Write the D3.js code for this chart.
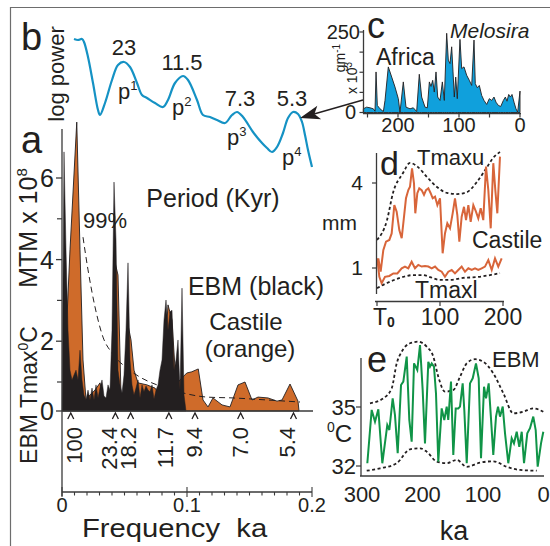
<!DOCTYPE html>
<html><head><meta charset="utf-8">
<script src="https://cdn.jsdelivr.net/npm/d3@7"></script>
<style>
body{margin:0;background:#fff}
text{font-family:"Liberation Sans",Arial,Helvetica,sans-serif}
</style>
</head><body>
<svg id="chart" width="550" height="546"></svg>
<script>
// ---------------- DATA ----------------
// Panel a: MTM spectra (x = frequency, 1/ka; y = MTM x 10^8)
const ebmFreqStep = 0.0016;
const ebmValues = [0,6.64,4.24,2.27,1.29,1.05,1.17,1.29,1.05,1.78,1.05,0.55,0.38,0.72,0.38,0.79,0.38,0.9,0.45,0.79,1.05,0.52,0.45,0.9,0.72,2.27,5.9,4.48,1.29,0.9,0.62,1.17,2.27,3.92,1.54,0.9,0.55,0.79,1.05,0.45,0.9,0.66,0.86,0.72,0.66,0.9,0.41,0.72,0.9,1.29,1.54,2.52,3.01,2.27,2.72,2.76,1.29,1.54,2.03,0.72,3.3,0.55,0];
const castileFreq = [0.0004,0.0032,0.0064,0.0118,0.0144,0.0168,0.0192,0.0224,0.0264,0.0304,0.0344,0.0368,0.0392,0.0424,0.0448,0.0472,0.0496,0.0528,0.0552,0.0576,0.0608,0.068,0.0744,0.0784,0.0816,0.0848,0.088,0.0912,0.0944,0.0998,0.1038,0.109,0.1128,0.1168,0.1208,0.128,0.1344,0.1408,0.1464,0.152,0.1568,0.1648,0.172,0.176,0.1824,0.1888,0.1896];
const castileValues = [0,2.03,4.24,7.37,4.24,1.54,0.38,0.55,0.72,0.97,0.14,0.38,0.55,3.94,3.62,0.55,0.48,2.4,2.03,1.29,0.97,0.9,0.79,0.55,1.29,2.89,2.52,0.9,1.05,1.22,1.25,1.32,0.38,0.14,0.45,0.21,0.14,0.9,1.0,0.38,0.48,0.45,0.34,0.38,0.93,0.34,0];
const sig99Freq = [0.0168,0.0208,0.0264,0.0328,0.04,0.052,0.0624,0.076,0.0888,0.1,0.116,0.1368,0.164,0.1904];
const sig99Values = [4.55,3.75,2.84,2.1,1.71,1.34,1.12,0.9,0.72,0.59,0.48,0.45,0.38,0.31];
const periodLabels = ["100","23.4","18.2","11.7","9.4","7.0","5.4"];
const periodMarkFreq = [0.007,0.0427,0.0549,0.0855,0.1064,0.1429,0.1852];
const periodLabelFreq = [0.0096,0.0372,0.0524,0.0824,0.1052,0.1424,0.1796];
const aYTicks = [6,4,2,0];
const aYMinor = [5,3,1];
const aXTickLabels = [0,0.1,0.2];

// Panel b: log power curve (relative units)
const bIndex = [2,6,10,12,16,21,26,28,33,40,46,52,58,65,70,75,83,91,96,103,111,116,125,131,138,145,153,160,165,171,181,190,195,200,205,211,216,221,226,230,233,236,240];
const bPower = [131,130,131,128,113,87,60,55,67,90,105,108,103,87,75,72,67,63,70,87,94,90,70,55,53,50,47,55,58,53,38,27,22,18,23,37,52,58,56,48,35,20,3];
const bPeakLabels = ["23","11.5","7.3","5.3"];

// Panel c: Africa Melosira (ka, gm-1 x 10^3)
const cAge = [256.8,251.4,245.9,240.4,237.7,236,233.9,229.5,224,221.3,215.9,210.3,204.9,199.5,196.7,191.3,186.9,180.3,174.9,169.4,165.1,161.2,155.7,151.9,148.6,145.9,143.1,140.5,137.7,134.9,131.1,127.3,124.1,120.2,117.5,114.8,112,109.8,107.7,105.4,102.8,98.4,95.6,91.8,87.4,83.1,79.2,75.4,73.3,70,66.7,62.8,59,54.6,50.3,46.4,42.6,39.3,35.5,31.6,27.3,24,21.3,18.5,15.8,13.1,9.8,6.6,3.8,0];
const cMelosira = [11.5,16.6,14.6,11.5,4,126,22,11.5,3,37.5,141.6,110,79,43,1,95,16.6,11.5,14.7,3,118.7,48,16.6,14.6,95,81,100,63.5,126,48,37.5,95,37.5,246,162.5,152,204,126,48,110,43,227,136.5,141.6,115.6,100,84,225,89.6,77,84,53,37.5,25,43,37.5,48,32,22,18.75,37.5,48,35,56,48,56,32,11.5,1,66.5];
const cXTicks = [250,200,150,100,50,0];
const cXLabels = [200,100,0];
const cYTicks = [0,62.5,125,187.5,250];

// Panel d: Castile (time from T0, mm)
const dUpperT = [2.1,5.8,10,14.3,19.6,23.3,27.5,31.2,35.4,39.2,42.9,46,49.7,52.4,55.6,58.7,60.8,64,67.1,70.9,74.6,77.8,81.5,85.2,88.4,92.1,95.8,100,104.2,107.9,111.6,115.9,120.1,123.8,127.5,130.7,134.4,138.1,141.3,145,148.7,152.9,157.1,160.8,164.6,168.7,173,176.7,180.5,184.6,187.8,191,195.2];
const dUpperV = [1.34,0.87,1.63,1.93,1.99,2.22,3.22,2.99,2.34,2.05,2.81,3.46,3.75,3.87,4.52,3.99,2.93,3.64,3.81,3.75,3.58,3.75,3.81,3.64,3.46,3.52,3.22,3.46,1.52,2.22,2.58,2.4,2.93,3.46,2.87,1.93,2.81,3.16,2.69,3.22,2.63,3.22,2.99,2.75,3.11,2.69,4.58,3.75,2.4,4.7,3.75,2.93,4.93];
const dLowerT = [0.5,3.7,7.4,12.7,19.6,25.9,32.3,39.2,44.4,49.7,55,60.3,65.6,70.9,76.2,81.5,86.8,92.1,97.3,102.7,107.9,113.2,118.6,123.8,129,134.4,139.7,145,150.3,155.6,160.8,166.2,171.4,176.7,182.1,187.3,192.5,197.9];
const dLowerV = [1.34,0.69,0.46,0.69,0.72,0.81,0.81,0.99,1.05,0.99,1.22,0.99,1.11,1.05,1.07,1.05,0.99,1.05,0.93,0.87,0.69,0.87,0.93,0.81,0.93,1.05,0.87,0.99,0.93,0.99,0.93,0.99,1.05,1.28,0.93,1.34,1.05,1.34];
const dEnvUT = [0,15.9,25.4,41.3,52.4,65.1,79.4,95.2,111.1,127,142.9,158.7,174.6,184.1,195.2];
const dEnvUV = [1.99,2.69,3.65,4.35,4.71,4.56,4.21,3.86,3.65,3.61,3.68,4.04,4.56,4.88,5.09];
const dEnvLT = [0,15.9,36.5,57.1,73,84.1,100,115.9,136.5,158.7,179.4,195.2];
const dEnvLV = [0.29,0.47,0.65,0.75,0.75,0.68,0.58,0.58,0.65,0.68,0.75,0.82];
const dYLabels = [4,1];
const dXLabels = [100,200];

// Panel e: EBM Tmax (ka, deg C)
const eAge = [291.2,284,278.5,273,266.4,258.2,254.8,249.3,245.5,241,235.5,231.7,226.1,221.8,217.9,214,208.6,204.1,199.7,195.9,190.4,187.6,184.8,181,177.7,173.9,168.3,164,160,157.4,152.9,149.1,145.1,140.8,138,133.6,130.9,126.9,121.5,117,111.6,107.1,103.3,98.3,95,90.6,86.8,83,78.5,75.2,71.9,67.4,63.6,58.2,52.6,48.8,44.3,40,36,32.2,26.8,22.3,16.9,12.9,9.6,4.1,0.3];
const eTmax = [32.14,34.85,34.25,34.88,32.14,34.08,33.83,35.44,34.59,32.65,36.12,36.29,37.56,34.34,33.24,37.22,36.88,38.15,35.86,33.15,37.3,37.05,37.22,37.05,35.69,32.22,34.93,34.34,35.02,34.34,36.29,32.56,34.93,34.93,35.02,36.2,34.85,32.14,36.2,36.46,37.22,36.46,32.39,36.03,35.44,36.2,34.42,32.56,34.51,35.02,34.51,35.02,33.66,32.14,33.41,33.15,33.74,32.98,33.74,32.14,33.66,33.92,34.51,33.83,31.97,33.15,33.74];
const eEnvUAge = [286.8,264.8,250.9,242.6,234.4,220.7,206.9,193.1,182.1,173.9,162.8,149.1,138,126.9,113.2,99.5,83,66.4,49.9,33.4,16.9,0.3];
const eEnvUV = [35.19,35.44,35.95,37.22,37.81,38.24,38.32,38.07,37.56,36.54,35.78,35.86,36.54,37.22,37.43,37.3,36.71,35.7,34.68,34.76,34.93,34.76];
const eEnvLAge = [292.2,270.2,242.6,220.7,204.1,193.1,176.5,160,143.5,126.9,105,83,60.8,38.8,11.2];
const eEnvLV = [31.76,31.88,32.14,32.85,32.9,32.73,32.22,32.14,32.31,31.96,32.17,32.24,31.96,31.8,31.76];
const eYLabels = [35,32];
const eXLabels = [300,200,100,0];

// ---------------- DRAWING ----------------
const INK = "#231f20", AX = "#3a3a3a";
const ORANGE = "#cf6b2a", BLUE_LINE = "#1592c4", BLUE_FILL = "#10a0dc", ORANGE_LINE = "#d8653a", GREEN = "#109447";
const svg = d3.select("#chart");

function txt(g, x, y, s, o = {}) {
  const t = g.append("text").attr("font-size", o.size || 20)
    .attr("text-anchor", o.anchor || "start").attr("fill", o.fill || INK);
  let tr = `translate(${x},${y})`;
  if (o.rot) tr += ` rotate(${o.rot})`;
  if (o.sx) tr += ` scale(${o.sx},1)`;
  t.attr("transform", tr);
  if (o.italic) t.attr("font-style", "italic");
  if (o.parts) {
    o.parts.forEach(p => {
      const ts = t.append("tspan").text(p.t);
      if (p.size) ts.attr("font-size", p.size);
      if (p.dy) ts.attr("dy", p.dy);
      if (p.weight) ts.attr("font-weight", p.weight);
    });
  } else t.text(s);
  return t;
}
function line(g, x1, y1, x2, y2, w = 1.2, c = AX) {
  g.append("line").attr("x1", x1).attr("y1", y1).attr("x2", x2).attr("y2", y2)
    .attr("stroke", c).attr("stroke-width", w);
}

// frame
svg.append("path").attr("d", "M10.5,546 V7.5 H550").attr("fill", "none").attr("stroke", "#6d6d6d").attr("stroke-width", 1.2);

// ===== Panel a =====
const gA = svg.append("g");
const xA = d3.scaleLinear([0, 0.2], [62, 312]);
const yA = d3.scaleLinear([0, 1, 6], [411, 382, 178]);
const areaA = d3.area().x(d => xA(d[0])).y0(yA(0)).y1(d => yA(d[1]));
const castile = castileFreq.map((f, i) => [f, castileValues[i]]);
const ebm = ebmValues.map((v, i) => [i * ebmFreqStep, v]);
gA.append("path").datum(castile).attr("d", areaA).attr("fill", ORANGE).attr("stroke", INK).attr("stroke-width", 0.9);
gA.append("path").datum(ebm).attr("d", areaA).attr("fill", INK).attr("stroke", INK).attr("stroke-width", 0.5);
gA.append("path").datum(sig99Freq.map((f, i) => [f, sig99Values[i]]))
  .attr("d", d3.line().x(d => xA(d[0])).y(d => yA(d[1])).curve(d3.curveMonotoneX))
  .attr("fill", "none").attr("stroke", INK).attr("stroke-width", 1).attr("stroke-dasharray", "6,4");
// axes
line(gA, xA(0), 129, xA(0), 496, 1.3);
line(gA, xA(0), yA(0), xA(0.2) + 1, yA(0), 1.3);
aYTicks.forEach(v => { line(gA, 56, yA(v), xA(0), yA(v), 1.3); txt(gA, 54, yA(v) + 9, String(v), { size: 25, anchor: "end" }); });
aYMinor.forEach(v => line(gA, 57, yA(v), xA(0), yA(v), 1.2));
// lower frequency axis
line(gA, xA(0), 492, xA(0.2), 492, 1.3);
d3.range(0, 21).forEach(i => {
  const f = i * 0.01;
  const major = i % 10 === 0;
  line(gA, xA(f), major ? 487 : 492, xA(f), major ? 497 : 495.5, 1.1);
});
aXTickLabels.forEach(v => txt(gA, xA(v), 512, String(v), { size: 20, anchor: "middle" }));
// period markers
periodMarkFreq.forEach((f, i) => {
  const x = xA(f);
  gA.append("path").attr("d", `M${x - 3},${419} L${x},${413} L${x + 3},${419}`)
    .attr("fill", "none").attr("stroke", INK).attr("stroke-width", 1.3);
  txt(gA, xA(periodLabelFreq[i]) + 8, 427, periodLabels[i], { size: 22, anchor: "end", rot: -90 });
});
txt(gA, 21, 153, "a", { size: 38 });
txt(gA, 37, 228, null, { rot: -90, anchor: "middle", size: 25, parts: [{ t: "MTM x 10" }, { t: "8", size: 15, dy: -10 }] });
txt(gA, 37, 395, null, { rot: -90, anchor: "middle", size: 23, parts: [{ t: "EBM Tmax" }, { t: "0", size: 14, dy: -9 }, { t: "C", dy: 9 }] });
txt(gA, 213, 207, "Period (Kyr)", { size: 25, anchor: "middle" });
txt(gA, 83, 228, "99%", { size: 22 });
txt(gA, 256, 295, "EBM (black)", { size: 25, anchor: "middle" });
txt(gA, 246, 330, "Castile", { size: 24, anchor: "middle" });
txt(gA, 250, 357, "(orange)", { size: 24, anchor: "middle" });
txt(gA, 82, 537, "Frequency\u00a0\u00a0ka", { size: 25, sx: 1.17 });

// ===== Panel b =====
const gB = svg.append("g");
const xB = d3.scaleLinear([0, 240], [72, 312]);
const yB = d3.scaleLinear([0, 140], [170, 30]);
gB.append("path").datum(bIndex.map((x, i) => [x, bPower[i]]))
  .attr("d", d3.line().x(d => xB(d[0])).y(d => yB(d[1])).curve(d3.curveCatmullRom.alpha(0.5)))
  .attr("fill", "none").attr("stroke", BLUE_LINE).attr("stroke-width", 2.2);
txt(gB, 21, 50, "b", { size: 38 });
txt(gB, 64, 74, "log power", { size: 22, rot: -90, anchor: "middle" });
const bLabelPos = [[124, 55], [182, 70], [240, 106], [292, 106]];
bPeakLabels.forEach((s, i) => txt(gB, bLabelPos[i][0], bLabelPos[i][1], s, { size: 22, anchor: "middle" }));
[["1", 118, 99], ["2", 172, 115], ["3", 227, 145], ["4", 282, 165]].forEach(p =>
  txt(gB, p[1], p[2], null, { size: 22, parts: [{ t: "p" }, { t: p[0], size: 13, dy: -9 }] }));

// arrow from c to the 5.3 peak
svg.append("line").attr("x1", 363).attr("y1", 100).attr("x2", 314).attr("y2", 114)
  .attr("stroke", INK).attr("stroke-width", 1.4);
{
  const ang = Math.atan2(118 - 100, 300 - 363) * 180 / Math.PI;
  svg.append("path").attr("d", "M0,0 L-20,-7 L-15,0 L-20,7 Z").attr("fill", INK)
    .attr("transform", `translate(300,118) rotate(${ang})`);
}

// ===== Panel c =====
const gC = svg.append("g");
const xC = d3.scaleLinear([0, 100], [520, 459]);
const yC = d3.scaleLinear([0, 250], [112.5, 32]);
const cData = cAge.map((a, i) => [a, cMelosira[i]]);
cData.push([0, 0]);
gC.append("path").datum(cData)
  .attr("d", d3.area().x(d => xC(d[0])).y0(yC(0)).y1(d => yC(d[1])))
  .attr("fill", BLUE_FILL).attr("stroke", INK).attr("stroke-width", 0.9);
line(gC, 363.5, 30, 363.5, 113.5, 1.3);
line(gC, 363, 113.5, 521, 113.5, 1.3);
cYTicks.forEach(v => line(gC, 359.5, yC(v), 363.5, yC(v), 1.2));
cXTicks.forEach(v => line(gC, xC(v), 113.5, xC(v), 117.5, 1.2));
cXLabels.forEach(v => txt(gC, xC(v), 132, String(v), { size: 20, anchor: "middle" }));
txt(gC, 360, 39, "250", { size: 20, anchor: "end" });
txt(gC, 356, 119, "0", { size: 20, anchor: "end" });
txt(gC, 345, 58, null, { size: 14, rot: -90, anchor: "middle", parts: [{ t: "gm" }, { t: "-1", size: 10, dy: -5 }] });
txt(gC, 357, 78, null, { size: 14, rot: -90, anchor: "middle", parts: [{ t: "x 10" }, { t: "3", size: 10, dy: -5 }] });
txt(gC, 367, 38, "c", { size: 36 });
txt(gC, 376, 65, "Africa", { size: 23 });
txt(gC, 450, 38, "Melosira", { size: 21, italic: true });

// ===== Panel d =====
const gD = svg.append("g");
const xD = d3.scaleLinear([0, 200], [377, 503]);
const yD = d3.scaleLinear([1, 4], [268, 183]);
const lnD = d3.line().x(d => xD(d[0])).y(d => yD(d[1]));
const lnDs = d3.line().x(d => xD(d[0])).y(d => yD(d[1])).curve(d3.curveMonotoneX);
gD.append("path").datum(dEnvUT.map((t, i) => [t, dEnvUV[i]])).attr("d", lnDs)
  .attr("fill", "none").attr("stroke", INK).attr("stroke-width", 1.8).attr("stroke-dasharray", "3,2.5");
gD.append("path").datum(dEnvLT.map((t, i) => [t, dEnvLV[i]])).attr("d", lnDs)
  .attr("fill", "none").attr("stroke", INK).attr("stroke-width", 1.8).attr("stroke-dasharray", "3,2.5");
gD.append("path").datum(dUpperT.map((t, i) => [t, dUpperV[i]])).attr("d", lnD)
  .attr("fill", "none").attr("stroke", ORANGE_LINE).attr("stroke-width", 2);
gD.append("path").datum(dLowerT.map((t, i) => [t, dLowerV[i]])).attr("d", lnD)
  .attr("fill", "none").attr("stroke", ORANGE_LINE).attr("stroke-width", 2);
line(gD, 376.5, 153, 376.5, 294, 1.3);
line(gD, 375, 301.5, 504, 301.5, 1.3);
dYLabels.forEach(v => { line(gD, 372, yD(v), 376.5, yD(v), 1.2); txt(gD, 363, yD(v) + 7, String(v), { size: 21, anchor: "end" }); });
[0, 100, 200].forEach(v => line(gD, xD(v), 301.5, xD(v), 306, 1.2));
dXLabels.forEach(v => txt(gD, xD(v), 325, String(v), { size: 23, anchor: "middle" }));
txt(gD, 373, 325, null, { size: 23, parts: [{ t: "T" }, { t: "0", size: 14, dy: 2, weight: "bold" }] });
txt(gD, 357, 230, "mm", { size: 21, anchor: "end" });
txt(gD, 380, 175, "d", { size: 34 });
txt(gD, 417, 165, "Tmaxu", { size: 22 });
txt(gD, 472, 248, "Castile", { size: 23 });
txt(gD, 415, 298, "Tmaxl", { size: 23 });

// ===== Panel e =====
const gE = svg.append("g");
const xE = d3.scaleLinear([0, 300], [543.5, 362]);
const yE = d3.scaleLinear([32, 35], [466, 407]);
const lnE = d3.line().x(d => xE(d[0])).y(d => yE(d[1]));
const lnEs = d3.line().x(d => xE(d[0])).y(d => yE(d[1])).curve(d3.curveMonotoneX);
gE.append("path").datum(eEnvUAge.map((t, i) => [t, eEnvUV[i]])).attr("d", lnEs)
  .attr("fill", "none").attr("stroke", INK).attr("stroke-width", 1.8).attr("stroke-dasharray", "3,2.5");
gE.append("path").datum(eEnvLAge.map((t, i) => [t, eEnvLV[i]])).attr("d", lnEs)
  .attr("fill", "none").attr("stroke", INK).attr("stroke-width", 1.8).attr("stroke-dasharray", "3,2.5");
gE.append("path").datum(eAge.map((t, i) => [t, eTmax[i]])).attr("d", lnE)
  .attr("fill", "none").attr("stroke", GREEN).attr("stroke-width", 2);
line(gE, 361, 358, 361, 476, 1.3);
line(gE, 360, 476, 544, 476, 1.3);
eYLabels.forEach(v => { line(gE, 356, yE(v), 361, yE(v), 1.2); txt(gE, 356, yE(v) + 8, String(v), { size: 22, anchor: "end" }); });
eXLabels.forEach(v => txt(gE, xE(v), 502, String(v), { size: 22, anchor: "middle" }));
txt(gE, 327, 442, null, { size: 24, parts: [{ t: "0", size: 14, dy: -10 }, { t: "C", dy: 10 }] });
txt(gE, 454, 540, "ka", { size: 27, anchor: "middle" });
txt(gE, 367, 372, "e", { size: 36 });
txt(gE, 492, 367, "EBM", { size: 22 });
</script>
</body></html>
